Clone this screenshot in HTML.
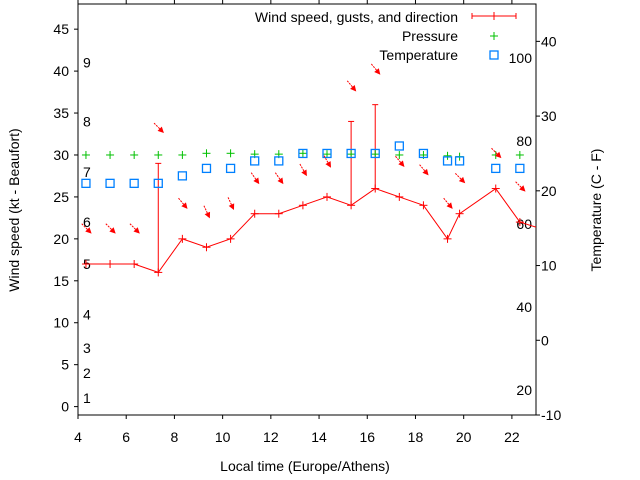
<!DOCTYPE html>
<html><head><meta charset="utf-8"><style>
body{margin:0;background:#fff}
svg{display:block;font-family:"Liberation Sans",sans-serif}
</style></head><body>
<svg id="c" width="640" height="480" viewBox="0 0 640 480"></svg>
<script>
const hours=[4.33,5.33,6.33,7.33,8.33,9.33,10.33,11.33,12.33,13.33,14.33,15.33,16.33,17.33,18.33,19.33,19.83,21.33,22.33];
const speed=[17,17,17,16,20,19,20,23,23,24,25,24,26,25,24,20,23,26,22];
const gusts=[null,null,null,29,null,null,null,null,null,null,null,34,36,null,null,null,null,null,null];
const direction=[315,315,315,315,320,335,335,325,325,330,330,320,320,320,320,320,315,315,315];
const pressure=[30,30,30,30,30,30.2,30.2,30.1,30.1,30.2,30.1,30.1,30.1,30,30,29.9,29.8,30,30];
const temperature=[21,21,21,21,22,23,23,24,24,25,25,25,25,26,25,24,24,23,23];
const xTicks=[4,6,8,10,12,14,16,18,20,22];
const yTicks=[0,5,10,15,20,25,30,35,40,45];
const y2Ticks=[-10,0,10,20,30,40];
const beaufortLabels=[1,2,3,4,5,6,7,8,9];
const beaufortKt=[1,4,7,11,17,22,28,34,41];
const fahrLabels=[20,40,60,80,100];

const L=78,R=536,T=4,B=415;
const X=h=>L+(h-4)/(23-4)*(R-L);
const Y=v=>B-(v+1)/(48+1)*(B-T);
const Y2=c=>B-(c+10)/(45+10)*(B-T);
const svg=document.getElementById('c');
const NS='http://www.w3.org/2000/svg';
function el(tag,attrs,parent){const e=document.createElementNS(NS,tag);for(const k in attrs)e.setAttribute(k,attrs[k]);(parent||svg).appendChild(e);return e;}
function txt(s,x,y,anchor,parent){const t=el('text',{x:x,y:y,'font-size':14,'text-anchor':anchor||'middle',fill:'#000'},parent);t.textContent=s;return t;}

// frame
const frame=el('rect',{x:L,y:T,width:R-L,height:B-T,fill:'none',stroke:'#000','stroke-width':1});



const gx=el('g',{});


xTicks.forEach(h=>{
  el('line',{x1:X(h),x2:X(h),y1:B,y2:B+4,stroke:'#000'},gx);
  el('line',{x1:X(h),x2:X(h),y1:T,y2:T-4,stroke:'#000'},gx);
  const t=txt(h,X(h),B+27,'middle',gx);
  
  
});
const gy=el('g',{});


yTicks.forEach(v=>{
  el('line',{x1:L-4,x2:L,y1:Y(v),y2:Y(v),stroke:'#000'},gy);
  const t=txt(v,L-9,Y(v)+5,'end',gy);
  
  
});
const gy2=el('g',{});


y2Ticks.forEach(v=>{
  el('line',{x1:R,x2:R+4,y1:Y2(v),y2:Y2(v),stroke:'#000'},gy2);
  const t=txt(v,R+5,Y2(v)+5,'start',gy2);
  
  
});
beaufortLabels.forEach((b,i)=>{
  const t=txt(b,83,Y(beaufortKt[i])+5,'start');
  
  
});
fahrLabels.forEach(f=>{
  const t=txt(f,532,Y2((f-32)*5/9)+5,'end');
  
  
});

// axis titles
let t=txt('Local time (Europe/Athens)',305,471);


t=el('text',{x:0,y:0,'font-size':14,'text-anchor':'middle',transform:'translate(19,210) rotate(-90)'});
t.textContent='Wind speed (kt - Beaufort)';


t=el('text',{x:0,y:0,'font-size':14,'text-anchor':'middle',transform:'translate(601,210) rotate(-90)'});
t.textContent='Temperature (C - F)';



const red='#ff0000',green='#00c000',blue='#0080ff';
// clip
const defs=el('defs',{});
const cp=el('clipPath',{id:'cp'},defs);
el('rect',{x:L,y:T,width:R-L,height:B-T},cp);

// wind line
let pts=hours.map((h,i)=>X(h)+','+Y(speed[i]));
pts.push(X(23)+','+Y(21.4));
const wl=el('polyline',{points:pts.join(' '),fill:'none',stroke:red,'stroke-width':1,'clip-path':'url(#cp)'});


function plus(x,y,c,name){const g=el('g',{});
  el('line',{x1:x-4,x2:x+4,y1:y,y2:y,stroke:c},g);el('line',{x1:x,x2:x,y1:y-4,y2:y+4,stroke:c},g);return g;}
hours.forEach((h,i)=>{
  plus(X(h),Y(speed[i]),red,'wind-speed-point');
  if(gusts[i]!=null){
    const g=el('g',{});
    
    
    el('line',{x1:X(h),x2:X(h),y1:Y(speed[i]),y2:Y(gusts[i]),stroke:red},g);
    el('line',{x1:X(h)-3,x2:X(h)+3,y1:Y(gusts[i]),y2:Y(gusts[i]),stroke:red},g);
  }
});
// pressure
hours.forEach((h,i)=>plus(X(h),Y(pressure[i]),green,'pressure-point'));
// temperature
hours.forEach((h,i)=>{
  const r=el('rect',{x:X(h)-4,y:Y2(temperature[i])-4,width:8,height:8,fill:'none',stroke:blue,'stroke-width':1.3});
  
  
});
// direction arrows
hours.forEach((h,i)=>{
  const base=(gusts[i]!=null?gusts[i]:speed[i])+4.3;
  const cx=X(h),cy=Y(base);
  const a=(direction[i]+180)*Math.PI/180; // direction wind blows to
  const dx=Math.sin(a),dy=-Math.cos(a);
  const len=6;
  const x1=cx-dx*len,y1=cy-dy*len,x2=cx+dx*len,y2=cy+dy*len;
  const g=el('g',{});
  
  
  el('line',{x1:x1,y1:y1,x2:x2,y2:y2,stroke:red,'stroke-width':1,'stroke-dasharray':'2,1'},g);
  const px=-dy,py=dx;
  el('polygon',{points:`${x2+dx*2},${y2+dy*2} ${x2-dx*4+px*3},${y2-dy*4+py*3} ${x2-dx*4-px*3},${y2-dy*4-py*3}`,fill:red},g);
});

// legend
const lg=el('g',{});


txt('Wind speed, gusts, and direction',458,22,'end',lg);
el('line',{x1:472,x2:516,y1:16,y2:16,stroke:red},lg);
el('line',{x1:472,x2:472,y1:13,y2:19,stroke:red},lg);
el('line',{x1:516,x2:516,y1:13,y2:19,stroke:red},lg);
el('line',{x1:494,x2:494,y1:12,y2:20,stroke:red},lg);
txt('Pressure',458,41,'end',lg);
plus(494,36,green,'legend-pressure-marker');
txt('Temperature',458,60,'end',lg);
el('rect',{x:490,y:51,width:8,height:8,fill:'none',stroke:blue,'stroke-width':1.3},lg);
</script>
</body></html>
